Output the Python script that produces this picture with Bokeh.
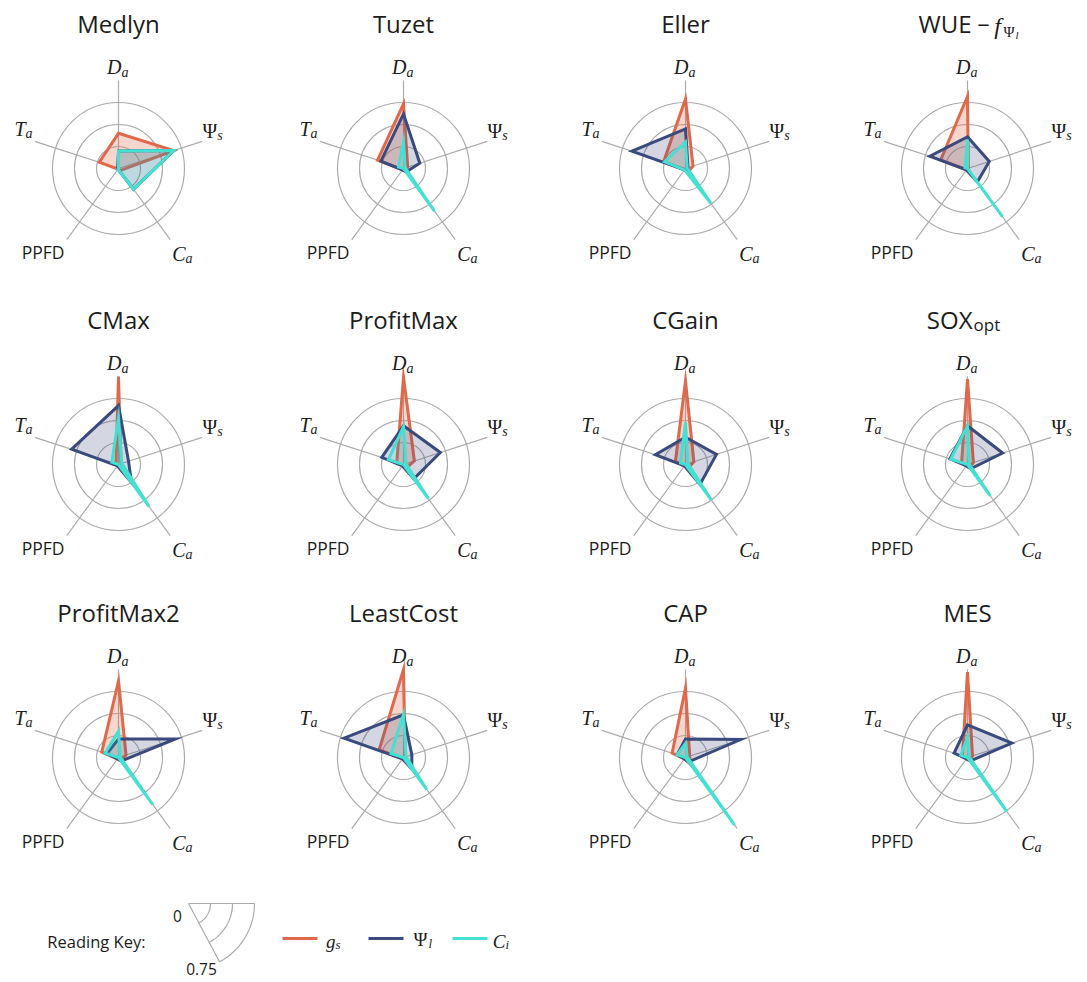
import numpy as np
from bokeh.plotting import figure
from bokeh.models import Range1d, ColumnDataSource
from bokeh.core.properties import value
from bokeh.embed import file_html
from bokeh.resources import INLINE

# ---------------- data ----------------
models = ["Medlyn", "Tuzet", "Eller", "WUE", "CMax", "ProfitMax",
          "CGain", "SOX", "ProfitMax2", "LeastCost", "CAP", "MES"]
# driver axes, clockwise from the top
drivers_main = ["D", "Ψ", "C", "PPFD", "T"]
drivers_sub = ["a", "s", "a", "", "a"]

# stomatal conductance g_s  (order: Da, Ψs, Ca, PPFD, Ta)
gs = [
    [0.40, 0.66, 0.03, 0.01, 0.23],
    [0.735, 0.05, 0.03, 0.02, 0.31],
    [0.79, 0.09, 0.05, 0.02, 0.26],
    [0.82, 0.01, 0.03, 0.02, 0.32],
    [1.00, 0.03, 0.03, 0.01, 0.03],
    [0.99, 0.13, 0.05, 0.02, 0.08],
    [0.95, 0.10, 0.05, 0.02, 0.12],
    [0.97, 0.07, 0.04, 0.02, 0.07],
    [0.87, 0.09, 0.04, 0.02, 0.20],
    [1.00, 0.02, 0.05, 0.02, 0.29],
    [0.79, 0.05, 0.10, 0.02, 0.16],
    [0.97, 0.06, 0.04, 0.02, 0.06],
]
# leaf water potential Ψ_l
psi_l = [
    [0.20, 0.66, 0.29, 0.01, 0.01],
    [0.62, 0.195, 0.05, 0.02, 0.27],
    [0.45, 0.03, 0.05, 0.02, 0.64],
    [0.36, 0.26, 0.19, 0.02, 0.45],
    [0.67, 0.12, 0.25, 0.02, 0.56],
    [0.44, 0.44, 0.20, 0.02, 0.26],
    [0.31, 0.37, 0.28, 0.02, 0.36],
    [0.44, 0.42, 0.06, 0.02, 0.21],
    [0.21, 0.68, 0.05, 0.02, 0.14],
    [0.485, 0.10, 0.16, 0.02, 0.71],
    [0.21, 0.66, 0.06, 0.02, 0.10],
    [0.37, 0.53, 0.05, 0.02, 0.16],
]
# intercellular CO2 C_i
ci = [
    [0.20, 0.66, 0.29, 0.01, 0.00],
    [0.30, 0.02, 0.60, 0.00, 0.06],
    [0.30, 0.02, 0.49, 0.02, 0.25],
    [0.33, 0.00, 0.675, 0.00, 0.03],
    [0.53, 0.04, 0.59, 0.00, 0.08],
    [0.43, 0.03, 0.48, 0.00, 0.18],
    [0.48, 0.03, 0.50, 0.00, 0.06],
    [0.44, 0.02, 0.44, 0.00, 0.20],
    [0.30, 0.02, 0.66, 0.00, 0.16],
    [0.49, 0.03, 0.45, 0.00, 0.15],
    [0.16, 0.02, 0.95, 0.00, 0.10],
    [0.23, 0.02, 0.76, 0.00, 0.08],
]
ring_levels = [0.25, 0.50, 0.75]
axis_max = 1.0
key_labels = ["0", "0.75"]
legend_main = ["g", "Ψ", "C"]
legend_sub = ["s", "l", "i"]

# ---------------- style / layout ----------------
RED = "#E0684B"
BLUE = "#3A4A7C"
CYAN = "#44E0D2"
GRID = "#ababab"
TXT = "#1c1c1c"
SANS = "Open Sans"
SERIF = "Liberation Serif"

W, H = 1080, 982
UNIT = 88.0
col_x = [118, 403, 685, 967]
row_y = [168, 464, 757]
centers = [(col_x[i % 4], row_y[i // 4]) for i in range(len(models))]
theta = np.deg2rad([90, 18, -54, -126, 162])
lab_ang = np.deg2rad([90, 21.5, -53, -132, 157.5])
lab_r = [1.15, 1.17, 1.21, 1.28, 1.18]

p = figure(width=W, height=H,
           x_range=Range1d(0, W), y_range=Range1d(H, 0),
           x_axis_location=None, y_axis_location=None,
           toolbar_location=None, output_backend="svg", min_border=0)
p.grid.visible = False
p.outline_line_color = None
p.background_fill_color = "white"
p.border_fill_color = "white"


def add_text(xs, ys, texts, font, size, style="normal", align="center",
             baseline="middle", color=TXT):
    src = ColumnDataSource(dict(x=list(xs), y=list(ys), text=list(texts)))
    p.text(x="x", y="y", text="text", source=src, text_font=value(font),
           text_font_size=size, text_font_style=style, text_align=align,
           text_baseline=baseline, text_color=color)


# rings
rx, ry, rr = [], [], []
for cx, cy in centers:
    for lv in ring_levels:
        rx.append(cx); ry.append(cy); rr.append(lv * UNIT)
p.circle(x=rx, y=ry, radius=rr, fill_color=None, line_color=GRID, line_width=1.2)

# spokes
sx, sy = [], []
for cx, cy in centers:
    for t in theta:
        sx.append([cx, cx + UNIT * axis_max * np.cos(t)])
        sy.append([cy, cy - UNIT * axis_max * np.sin(t)])
p.multi_line(sx, sy, line_color=GRID, line_width=1.2)

# polygons
for series, col, fa in [(gs, RED, 0.27), (psi_l, BLUE, 0.22), (ci, CYAN, 0.15)]:
    xs, ys = [], []
    for (cx, cy), vals in zip(centers, series):
        v = np.asarray(vals, dtype=float)
        xs.append(list(cx + UNIT * v * np.cos(theta)))
        ys.append(list(cy - UNIT * v * np.sin(theta)))
    p.patches(xs, ys, fill_color=col, fill_alpha=fa, line_color=col,
              line_width=3, line_join="miter")

# axis labels
mx, my, mt, ux, uy, ut = [], [], [], [], [], []
psx, psy = [], []
ppx, ppy = [], []
for cx, cy in centers:
    for k in range(5):
        lx = cx + UNIT * lab_r[k] * np.cos(lab_ang[k])
        ly = cy - UNIT * lab_r[k] * np.sin(lab_ang[k])
        if drivers_sub[k] == "":
            ppx.append(lx); ppy.append(ly)
        elif drivers_main[k] == "Ψ":
            psx.append(lx + 3); psy.append(ly)
            ux.append(lx + 3); uy.append(ly + 5); ut.append(drivers_sub[k])
        else:
            mx.append(lx + 3); my.append(ly); mt.append(drivers_main[k])
            ux.append(lx + 3); uy.append(ly + 5); ut.append(drivers_sub[k])
add_text(mx, my, mt, SERIF, "20px", "italic", "right")
add_text(psx, psy, ["Ψ"] * len(psx), SERIF, "20px", "normal", "right")
add_text(ux, uy, ut, SERIF, "14px", "italic", "left")
add_text(ppx, ppy, ["PPFD"] * len(ppx), SANS, "17.5px")

# titles
TOFF = 145
plain = [i for i, m in enumerate(models) if m not in ("WUE", "SOX")]
add_text([centers[i][0] for i in plain], [centers[i][1] - TOFF for i in plain],
         [models[i] for i in plain], SANS, "24px")
iw = models.index("WUE")
cx, cy = centers[iw]
ty = cy - TOFF
add_text([cx - 49], [ty], ["WUE"], SANS, "24px", align="left")
add_text([cx + 16], [ty + 1], ["−"], SANS, "22px")
add_text([cx + 30], [ty + 2], ["f"], SERIF, "24px", "italic")
add_text([cx + 36], [ty + 8], ["Ψ"], SERIF, "15px", "normal", "left")
add_text([cx + 48], [ty + 11], ["l"], SERIF, "11px", "italic", "left")
isx = models.index("SOX")
cx, cy = centers[isx]
ty = cy - TOFF
add_text([cx + 5], [ty], ["SOX"], SANS, "24px", align="right")
add_text([cx + 6], [ty + 5], ["opt"], SANS, "17px", align="left")

# ---------------- legend ----------------
LY = 938
add_text([145], [LY + 3], ["Reading Key:"], SANS, "16.5px", align="right")
ax0, ay0 = 188.0, 903.0
KUNIT = 88.0
ang_lo = np.deg2rad(-62)
kx, ky = [], []
kx.append([ax0, ax0 + KUNIT * ring_levels[-1]]); ky.append([ay0, ay0])
kx.append([ax0, ax0 + KUNIT * ring_levels[-1] * np.cos(ang_lo)])
ky.append([ay0, ay0 - KUNIT * ring_levels[-1] * np.sin(ang_lo)])
arc_t = np.linspace(0, ang_lo, 40)
for lv in ring_levels:
    kx.append(list(ax0 + KUNIT * lv * np.cos(arc_t)))
    ky.append(list(ay0 - KUNIT * lv * np.sin(arc_t)))
p.multi_line(kx, ky, line_color=GRID, line_width=1.2)
add_text([ax0 - 11, ax0 + 13], [ay0 + 12, ay0 + 65], key_labels, SANS, "15.5px")

leg_x = [282, 368, 452]
for x0, col, m, s in zip(leg_x, [RED, BLUE, CYAN], legend_main, legend_sub):
    p.line([x0, x0 + 35], [LY, LY], line_color=col, line_width=3)
    if m == "Ψ":
        add_text([x0 + 59], [LY + 1], [m], SERIF, "19px", "normal", "right")
        add_text([x0 + 60], [LY + 5], [s], SERIF, "13px", "italic", "left")
    else:
        add_text([x0 + 53], [LY + 3], [m], SERIF, "19px", "italic", "right")
        add_text([x0 + 53], [LY + 6], [s], SERIF, "13px", "italic", "left")

open("out.html", "w").write(file_html(p, INLINE))
